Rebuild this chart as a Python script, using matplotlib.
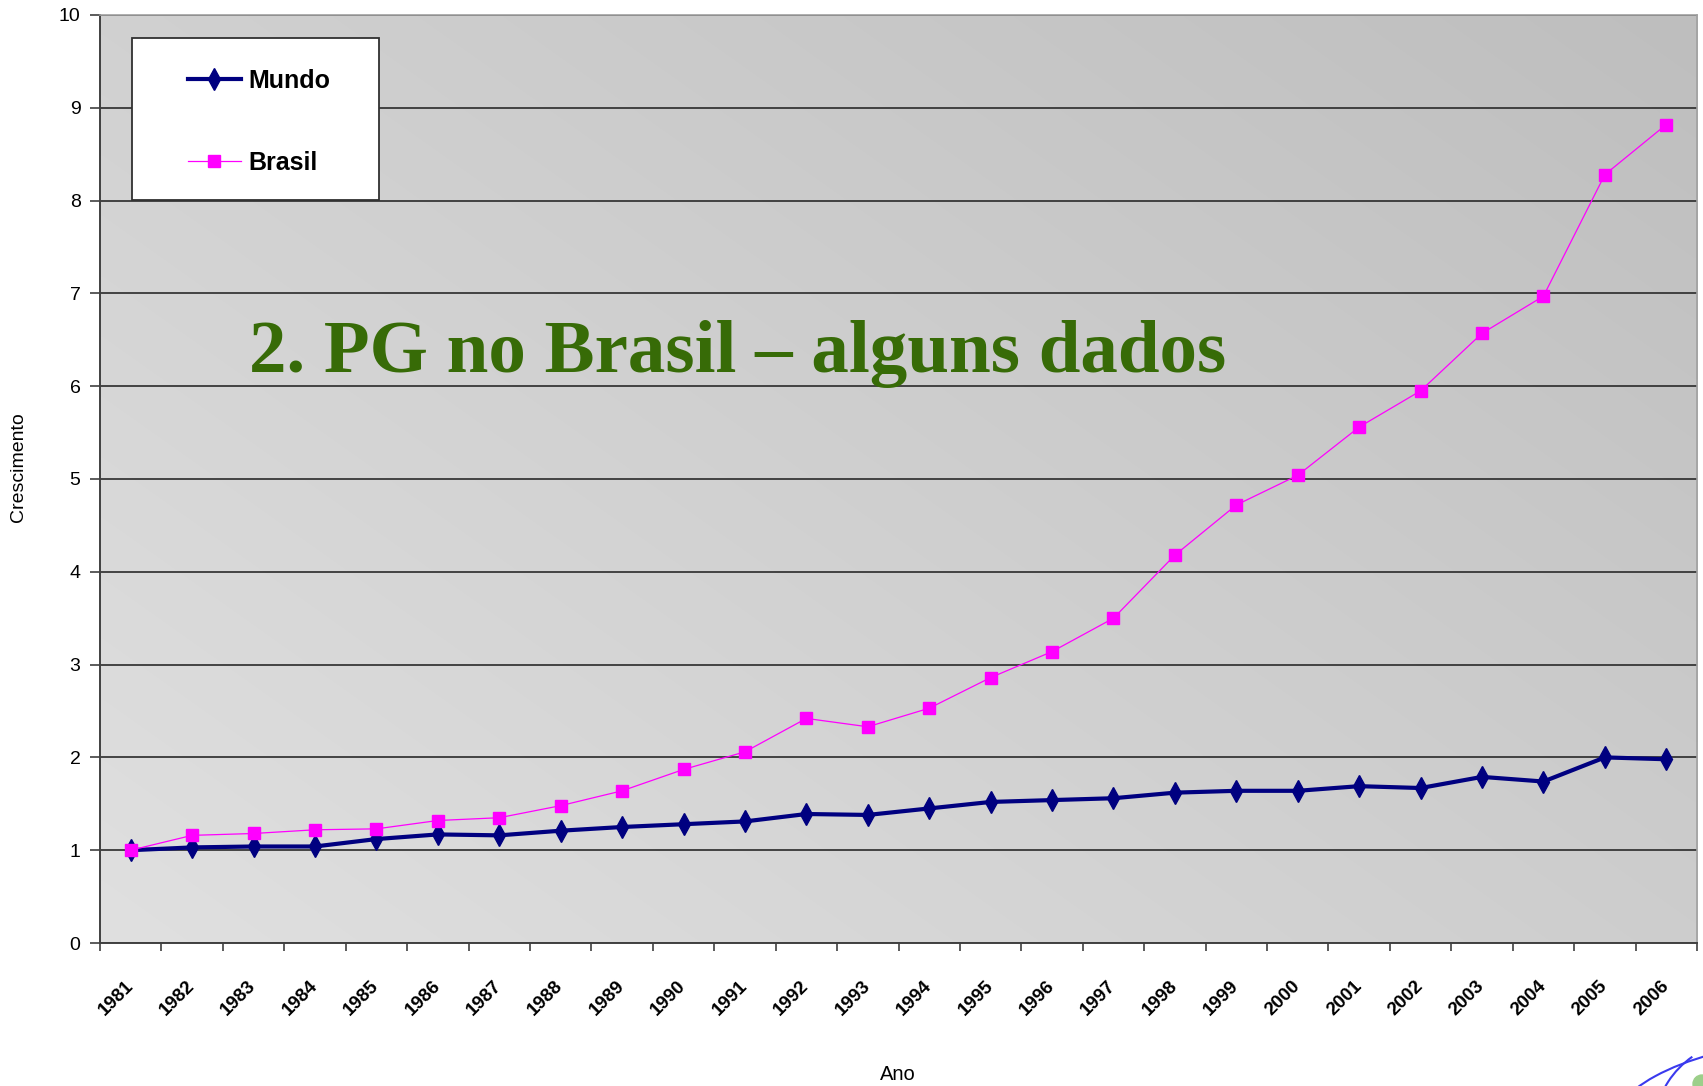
import numpy as np
import matplotlib
matplotlib.use("Agg")
import matplotlib.pyplot as plt
from matplotlib.patches import Rectangle, Arc, Circle

plt.rcParams['font.family'] = ['Liberation Sans', 'DejaVu Sans']

years = [str(y) for y in range(1981, 2007)]
mundo = [1.00, 1.03, 1.04, 1.04, 1.12, 1.17, 1.16, 1.21, 1.25, 1.28, 1.31, 1.39, 1.38,
         1.45, 1.52, 1.54, 1.56, 1.62, 1.64, 1.64, 1.69, 1.67, 1.79, 1.74, 2.00, 1.98]
brasil = [1.00, 1.16, 1.18, 1.22, 1.23, 1.32, 1.35, 1.48, 1.64, 1.87, 2.06, 2.42, 2.33,
          2.53, 2.86, 3.14, 3.50, 4.18, 4.72, 5.04, 5.56, 5.95, 6.57, 6.97, 8.28, 8.82]
yticks = list(range(0, 11))
series_names = ['Mundo', 'Brasil']
title = '2. PG no Brasil \u2013 alguns dados'

W, H = 1703, 1086
fig = plt.figure(figsize=(W / 100, H / 100), dpi=100)
ax = fig.add_axes([100 / W, 1 - 943 / H, 1597 / W, 928 / H])

# gradient background
n = 256
gx, gy = np.meshgrid(np.linspace(0, 1, n), np.linspace(0, 1, n))
t = 0.55 * gx + 0.45 * gy
c0 = np.array([0xe0, 0xe0, 0xe0]) / 255
c1 = np.array([0xbe, 0xbe, 0xbe]) / 255
img = c0[None, None, :] * (1 - t[..., None]) + c1[None, None, :] * t[..., None]
ax.imshow(img, extent=[0, 1, 0, 1], transform=ax.transAxes, aspect='auto',
          origin='lower', zorder=0, interpolation='bilinear')

x = np.arange(len(years))
ax.plot(x, mundo, color='#000080', lw=3.0, marker='d', ms=11, label=series_names[0], zorder=3)
ax.plot(x, brasil, color='#ff00ff', lw=0.9, marker='s', ms=8, label=series_names[1], zorder=3)

ax.set_xlim(-0.5, len(years) - 0.5)
ax.set_ylim(0, 10)
ax.set_yticks(yticks)
ax.set_yticklabels([str(v) for v in yticks], fontsize=14)
ax.yaxis.grid(True, color='#2a2a2a', lw=1.2)
ax.set_axisbelow(True)

ax.set_xticks(x)
ax.set_xticklabels(years, rotation=45, ha='right', va='center', rotation_mode='anchor',
                   fontweight='bold', fontsize=13.5)
ax.set_xticks(np.arange(-0.5, len(years), 1), minor=True)
ax.tick_params(axis='x', which='major', length=0, pad=29)
ax.tick_params(axis='x', which='minor', length=6, width=1.2, color='#404040', direction='out')
ax.tick_params(axis='y', length=7, width=1.2, color='#404040', pad=7)

for s in ['left', 'bottom']:
    ax.spines[s].set_color('#404040')
    ax.spines[s].set_linewidth(1.4)
for s in ['top', 'right']:
    ax.spines[s].set_color('#a0a0a0')
    ax.spines[s].set_linewidth(1.2)

# legend box
ax.add_patch(Rectangle((132 / W, 1 - 200 / H), 247 / W, 162 / H, transform=fig.transFigure,
                       facecolor='white', edgecolor='#303030', lw=1.3, zorder=4, clip_on=False))
ax.legend(loc='upper left', bbox_to_anchor=(188 / W, 1 - 69 / H), bbox_transform=fig.transFigure,
          frameon=False, prop={'family': 'Liberation Sans', 'weight': 'bold', 'size': 18},
          handlelength=2.1, handletextpad=0.3, labelspacing=2.3, borderpad=0, borderaxespad=0)

fig.text(19 / W, 1 - 467 / H, 'Crescimento', rotation=90, ha='center', va='center', fontsize=14)
fig.text(898 / W, 1 - 1075 / H, 'Ano', ha='center', va='center', fontsize=14.5)

ax.text(738 / W, 1 - 372 / H, title, transform=fig.transFigure, ha='center', va='baseline',
        family='Liberation Serif', fontweight='bold', fontsize=54, color='#376b07', zorder=6)

# logo fragment bottom-right
tr = fig.dpi_scale_trans
fig.add_artist(Arc((17.2, -0.05), 2.1, 0.75, angle=15, theta1=90, theta2=200,
                   transform=tr, color='#3a3aee', lw=1.5))
fig.add_artist(Arc((17.15, -0.1), 1.3, 0.9, angle=40, theta1=80, theta2=200,
                   transform=tr, color='#3a3aee', lw=1.5))
fig.add_artist(Circle((17.02, 0.02), 0.09, transform=tr, color='#9ccf8a'))

fig.savefig('out.png', dpi=100)
